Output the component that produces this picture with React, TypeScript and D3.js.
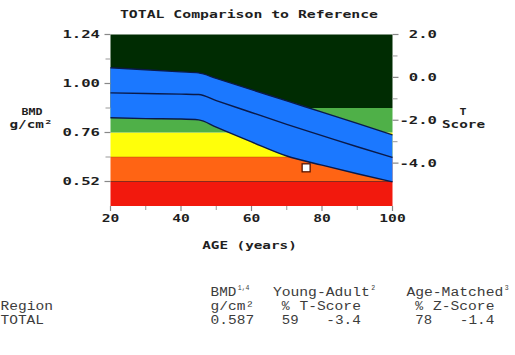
import React from "react";
import * as d3 from "d3";

// ---- data ----
const ages = [20, 30, 40, 45, 50, 60, 70, 80, 90, 100];
const upperBMD = [1.077, 1.067, 1.057, 1.052, 1.025, 0.970, 0.915, 0.860, 0.805, 0.748];
const meanBMD = [0.954, 0.951, 0.948, 0.946, 0.916, 0.858, 0.800, 0.745, 0.690, 0.638];
const lowerBMD = [0.832, 0.828, 0.826, 0.822, 0.786, 0.714, 0.645, 0.600, 0.558, 0.518];

const bandBreaks = [0.40, 0.52, 0.64, 0.76, 0.88, 1.24];
const bandColors = ["#f2190d", "#ff6414", "#ffff0a", "#4fb048", "#002c02"];

const patientAge = 75.5;
const patientBMD = 0.587;

const leftTickVals = [1.24, 1.0, 0.76, 0.52];
const leftTickLabels = ["1.24", "1.00", "0.76", "0.52"];
const leftMinorVals = [1.12, 0.88, 0.64];
const tTickVals = [2, 0, -2, -4];
const tTickLabels = ["2.0", "0.0", "-2.0", "-4.0"];
const tMinorVals = [1, -1, -3];
const xTickVals = [20, 40, 60, 80, 100];
const xMinorVals = [30, 50, 70, 90];

const tableHeader1 = [
  { col: 24, text: "BMD", sup: "1,4" },
  { col: 31, text: "Young-Adult", sup: "2" },
  { col: 46, text: "Age-Matched", sup: "3" },
];
const tableHeader2 = [
  { col: 0, text: "Region" },
  { col: 24, text: "g/cm²" },
  { col: 32, text: "%" },
  { col: 34, text: "T-Score" },
  { col: 47, text: "%" },
  { col: 49, text: "Z-Score" },
];
const tableRow = [
  { col: 0, text: "TOTAL" },
  { col: 24, text: "0.587" },
  { col: 32, text: "59" },
  { col: 37, text: "-3.4" },
  { col: 47, text: "78" },
  { col: 52, text: "-1.4" },
];

const W = 515;
const H = 355;
const x = d3.scaleLinear().domain([20, 100]).range([110.5, 392.5]);
const y = d3.scaleLinear().domain([0.4, 1.24]).range([206, 34.5]);
const yT = d3.scaleLinear().domain([-6, 2]).range([206, 34.5]);

const pixFont = "'DejaVu Sans Mono', monospace";
const CW = 8.9;

function PixText(props: {
  x: number;
  y: number;
  text: string;
  anchor?: "start" | "middle" | "end";
  cw?: number;
  size?: number;
  fill?: string;
}) {
  const cw = props.cw ?? CW;
  return (
    <text
      x={props.x}
      y={props.y}
      textAnchor={props.anchor ?? "start"}
      dominantBaseline="central"
      fontFamily={pixFont}
      fontWeight="bold"
      fontSize={props.size ?? 10}
      fill={props.fill ?? "#1e1e1e"}
      textLength={props.text.length * cw}
      lengthAdjust="spacingAndGlyphs"
    >
      {props.text}
    </text>
  );
}

export default function App() {
  const pts = ages.map((a, i) => ({ a, u: upperBMD[i], m: meanBMD[i], l: lowerBMD[i] }));
  const area = d3
    .area<any>()
    .x((d) => x(d.a))
    .y0((d) => y(d.l))
    .y1((d) => y(d.u))
    .curve(d3.curveMonotoneX);
  const line = (key: "u" | "m" | "l") =>
    d3
      .line<any>()
      .x((d) => x(d.a))
      .y((d) => y(d[key]))
      .curve(d3.curveMonotoneX)(pts) as string;

  const x0 = x(20);
  const x1 = x(100);
  const tcw = 8.9;
  const tx0 = -3;
  const tableFont = "'Liberation Mono', 'Courier New', monospace";
  const tSize = 12.5;
  const colX = (c: number) => Math.max(0.5, tx0 + c * tcw);

  const cell = (t: { col: number; text: string }, yy: number, key: string) => (
    <text
      key={key}
      x={colX(t.col)}
      y={yy}
      textLength={t.text.length * tcw - 1}
      lengthAdjust="spacingAndGlyphs"
    >
      {t.text}
    </text>
  );

  return (
    <svg
      width={W}
      height={H}
      style={{ position: "absolute", left: 0, top: 0, background: "#fff" }}
    >
      {/* bands */}
      {bandColors.map((c, i) => (
        <rect
          key={i}
          x={x0}
          width={x1 - x0}
          y={y(bandBreaks[i + 1])}
          height={y(bandBreaks[i]) - y(bandBreaks[i + 1])}
          fill={c}
        />
      ))}
      <line x1={x0} x2={x1} y1={y(0.52)} y2={y(0.52)} stroke="#5a0a05" strokeWidth={1} opacity={0.7} />
      <line x1={x0} x2={x1} y1={y(0.64)} y2={y(0.64)} stroke="#b04000" strokeWidth={0.8} opacity={0.5} />
      {/* reference band */}
      <path d={area(pts) as string} fill="#1b78ff" />
      <path d={line("u")} fill="none" stroke="#0a1a4a" strokeWidth={1.4} />
      <path d={line("m")} fill="none" stroke="#0a1a4a" strokeWidth={1.4} />
      <path d={line("l")} fill="none" stroke="#0a1a4a" strokeWidth={1.4} />
      {/* patient marker */}
      <rect
        x={x(patientAge) - 4}
        y={y(patientBMD) - 4}
        width={8}
        height={8}
        fill="#ffffff"
        stroke="#5a1500"
        strokeWidth={1.3}
      />
      {/* left axis */}
      {leftTickVals.map((v, i) => (
        <g key={"l" + i}>
          <line x1={x0 - 6} x2={x0} y1={y(v)} y2={y(v)} stroke="#888" strokeWidth={1.2} />
          <PixText x={100} y={y(v)} text={leftTickLabels[i]} anchor="end" cw={9.4} />
        </g>
      ))}
      {leftMinorVals.map((v, i) => (
        <line key={"lm" + i} x1={x0 - 5} x2={x0} y1={y(v)} y2={y(v)} stroke="#999" strokeWidth={1} />
      ))}
      {/* right axis */}
      {tTickVals.map((v, i) => (
        <g key={"r" + i}>
          <line x1={x1} x2={x1 + 6} y1={yT(v)} y2={yT(v)} stroke="#888" strokeWidth={1.2} />
          <PixText x={437} y={yT(v)} text={tTickLabels[i]} anchor="end" cw={9.4} />
        </g>
      ))}
      {tMinorVals.map((v, i) => (
        <line key={"rm" + i} x1={x1} x2={x1 + 5} y1={yT(v)} y2={yT(v)} stroke="#999" strokeWidth={1} />
      ))}
      {/* bottom axis */}
      {xTickVals.map((v, i) => (
        <g key={"x" + i}>
          <line x1={x(v)} x2={x(v)} y1={206} y2={211} stroke="#888" strokeWidth={1.2} />
          <PixText x={x(v)} y={218} text={String(v)} anchor="middle" cw={8.8} />
        </g>
      ))}
      {xMinorVals.map((v, i) => (
        <line key={"xm" + i} x1={x(v)} x2={x(v)} y1={206} y2={210} stroke="#999" strokeWidth={1} />
      ))}
      {/* titles */}
      <PixText x={249} y={14} text="TOTAL Comparison to Reference" anchor="middle" cw={8.9} />
      <PixText x={249.5} y={245} text="AGE (years)" anchor="middle" cw={8.6} />
      <PixText x={32} y={112} text="BMD" anchor="middle" cw={7} size={9} />
      <PixText x={31} y={124} text="g/cm²" anchor="middle" cw={8.6} size={10} />
      <PixText x={463} y={112} text="T" anchor="middle" cw={7} size={9} />
      <PixText x={463.5} y={124} text="Score" anchor="middle" cw={8.6} size={10} />

      {/* table */}
      <g fontFamily={tableFont} fontSize={tSize} fill="#3c3c3c">
        {tableHeader1.map((t, i) => (
          <g key={"h1" + i}>
            {cell(t, 296, "h1t" + i)}
            <text x={colX(t.col + t.text.length) + 0.5} y={290} fontSize={6.5}>
              {t.sup}
            </text>
          </g>
        ))}
        {tableHeader2.map((t, i) => cell(t, 310, "h2" + i))}
        {tableRow.map((t, i) => cell(t, 323.5, "r" + i))}
      </g>
    </svg>
  );
}
